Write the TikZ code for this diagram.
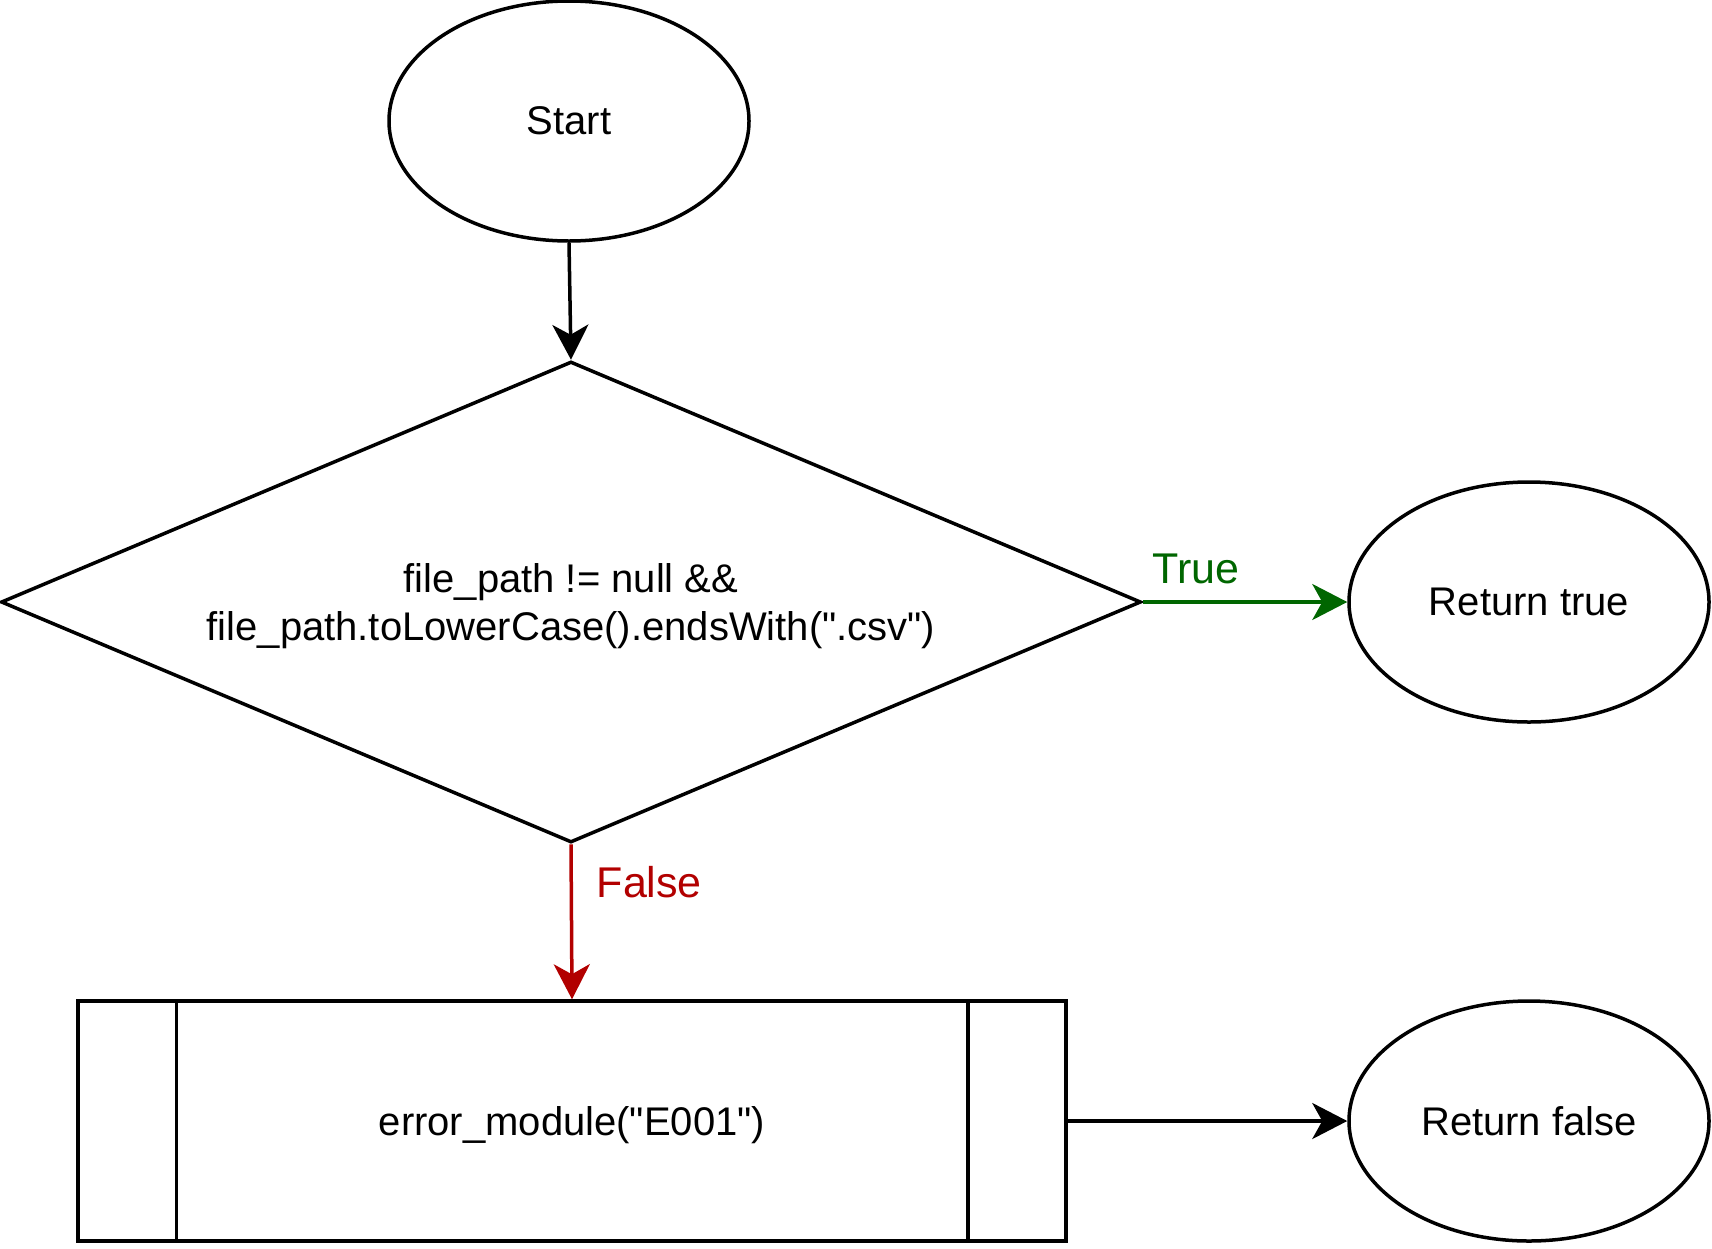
\documentclass[tikz,border=0pt]{standalone}
\usepackage{fontspec}
\setmainfont{Liberation Sans}
\usetikzlibrary{shapes.geometric,arrows.meta,calc}
\definecolor{truegreen}{HTML}{006600}
\definecolor{falsered}{HTML}{B20000}
\begin{document}
\begin{tikzpicture}[x=1pt,y=-1pt, line width=3.5pt,
  every node/.style={font=\fontsize{40}{48}\selectfont},
  terminal/.style={draw, line width=3.5pt, ellipse, minimum width=360pt, minimum height=240pt, inner sep=0pt},
  decision/.style={draw, line width=3.5pt, diamond, shape aspect=2.37, minimum width=1140pt, minimum height=481pt, inner sep=0pt, align=center, text depth=0pt},
  subproc/.style={draw, line width=3.5pt, rectangle, minimum width=988pt, minimum height=240pt, inner sep=0pt, text depth=0pt},
  conn/.style={line width=3.5pt, -{Stealth[length=35pt, width=36pt, inset=10pt]}},
  edgelabel/.style={font=\fontsize{43}{50}\selectfont, inner sep=0pt}
]
\useasboundingbox (0,0) rectangle (1712,1248);
\node[terminal] (start) at (569,121) {Start};
\node[decision] (dia) at (571,602) {file\_path != null \&\&\\file\_path.toLowerCase().endsWith(\textquotedbl.csv\textquotedbl)};
\node[terminal] (rtrue) at (1529,602) {Return true};
\node[subproc] (err) at (572,1121) {error\_module(\textquotedbl E001\textquotedbl)};
\draw ($(err.north west)+(100,0)$) -- ($(err.south west)+(100,0)$);
\draw ($(err.north east)+(-100,0)$) -- ($(err.south east)+(-100,0)$);
\node[terminal] (rfalse) at (1529,1121) {Return false};
\draw[conn] (start.south) -- (dia.north);
\draw[conn, truegreen] (dia.east) -- node[pos=0, anchor=base west, xshift=8pt, yshift=19pt, edgelabel, text=truegreen] {True} (rtrue.west);
\draw[conn, falsered] (dia.south) -- node[pos=0, anchor=base west, xshift=24pt, yshift=-53pt, edgelabel, text=falsered] {False} (err.north);
\draw[conn] (err.east) -- (rfalse.west);
\end{tikzpicture}
\end{document}
